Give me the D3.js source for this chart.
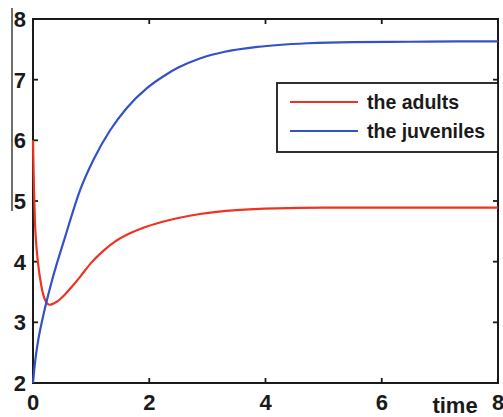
<!DOCTYPE html>
<html>
<head>
<meta charset="utf-8">
<script src="https://cdn.jsdelivr.net/npm/d3@7/dist/d3.min.js"></script>
<style>
  html, body { margin: 0; padding: 0; background: #fff; }
  svg { display: block; }
  text { font-family: "Liberation Sans", Arial, sans-serif; fill: #1a1a1a; }
</style>
</head>
<body>
<svg id="chart" width="503" height="417"></svg>
<script>
// Adults population over time
const adultTime  = [0, 0.01, 0.02, 0.034, 0.055, 0.086, 0.14, 0.207, 0.29, 0.41, 0.55, 0.69, 0.81, 1.0, 1.2, 1.41, 1.65, 1.9, 2.2, 2.5, 2.9, 3.5, 4.2, 5.0, 6.0, 7.0, 8.0];
const adultValue = [6.0, 5.5, 5.1, 4.64, 4.3, 3.98, 3.62, 3.37, 3.29, 3.34, 3.46, 3.61, 3.75, 3.98, 4.17, 4.33, 4.46, 4.56, 4.65, 4.72, 4.79, 4.85, 4.88, 4.89, 4.89, 4.89, 4.89];

// Juveniles population over time
const juvTime  = [0, 0.03, 0.08, 0.16, 0.33, 0.55, 0.81, 1.04, 1.33, 1.61, 1.96, 2.3, 2.5, 2.87, 3.3, 3.86, 4.72, 5.5, 6.5, 7.3, 8.0];
const juvValue = [2.0, 2.3, 2.65, 3.04, 3.7, 4.4, 5.18, 5.68, 6.17, 6.53, 6.86, 7.09, 7.20, 7.35, 7.46, 7.54, 7.60, 7.62, 7.625, 7.63, 7.63];

const xTicks = [0, 2, 4, 6, 8];
const yTicks = [2, 3, 4, 5, 6, 7, 8];
const seriesNames = ["the adults", "the juveniles"];
const seriesColors = ["#ee3322", "#3352c8"];
const xAxisTitle = "time";

const svg = d3.select("#chart");
const plot = { left: 33, top: 19, right: 498, bottom: 383 };

const x = d3.scaleLinear().domain([0, 8]).range([plot.left, plot.right]);
const y = d3.scaleLinear().domain([2, 8]).range([plot.bottom, plot.top]);

// stray rule left of the y labels
svg.append("line")
  .attr("x1", 12).attr("x2", 12).attr("y1", 8).attr("y2", 211)
  .attr("stroke", "#222").attr("stroke-width", 1.3);

svg.append("clipPath").attr("id", "clip")
  .append("rect")
  .attr("x", plot.left - 2).attr("y", plot.top)
  .attr("width", plot.right - plot.left + 2).attr("height", plot.bottom - plot.top);

// Box frame
svg.append("rect")
  .attr("x", plot.left).attr("y", plot.top)
  .attr("width", plot.right - plot.left).attr("height", plot.bottom - plot.top)
  .attr("fill", "none").attr("stroke", "#1a1a1a").attr("stroke-width", 2);

// Inward ticks on all four sides
const tickLen = 5;
const g = svg.append("g");
xTicks.forEach(t => {
  g.append("line").attr("x1", x(t)).attr("x2", x(t))
    .attr("y1", plot.bottom).attr("y2", plot.bottom - tickLen)
    .attr("stroke", "#1a1a1a").attr("stroke-width", 1.8);
  g.append("line").attr("x1", x(t)).attr("x2", x(t))
    .attr("y1", plot.top).attr("y2", plot.top + tickLen)
    .attr("stroke", "#1a1a1a").attr("stroke-width", 1.8);
});
yTicks.forEach(v => {
  g.append("line").attr("x1", plot.left).attr("x2", plot.left + tickLen)
    .attr("y1", y(v)).attr("y2", y(v))
    .attr("stroke", "#1a1a1a").attr("stroke-width", 1.8);
  g.append("line").attr("x1", plot.right).attr("x2", plot.right - tickLen)
    .attr("y1", y(v)).attr("y2", y(v))
    .attr("stroke", "#1a1a1a").attr("stroke-width", 1.8);
});

// Tick labels
svg.append("g").selectAll("text").data(yTicks).join("text")
  .attr("x", 26).attr("y", d => y(d) + 8)
  .attr("text-anchor", "end")
  .attr("font-size", 22).attr("font-weight", "bold")
  .text(d => d);

svg.append("g").selectAll("text").data(xTicks).join("text")
  .attr("x", d => x(d)).attr("y", 410)
  .attr("text-anchor", "middle")
  .attr("font-size", 22).attr("font-weight", "bold")
  .text(d => d);

svg.append("text")
  .attr("x", 455).attr("y", 413)
  .attr("text-anchor", "middle")
  .attr("font-size", 22).attr("font-weight", "bold")
  .text(xAxisTitle);

// Curves
const line = d3.line().x(d => x(d[0])).y(d => y(d[1])).curve(d3.curveMonotoneX);
const series = [
  d3.zip(adultTime, adultValue),
  d3.zip(juvTime, juvValue)
];
svg.append("g").attr("clip-path", "url(#clip)")
  .selectAll("path").data(series).join("path")
  .attr("d", line)
  .attr("fill", "none")
  .attr("stroke", (d, i) => seriesColors[i])
  .attr("stroke-width", 2.2);

// Legend
const lg = svg.append("g");
lg.append("rect")
  .attr("x", 277).attr("y", 83).attr("width", 221).attr("height", 69)
  .attr("fill", "#fff").attr("stroke", "#1a1a1a").attr("stroke-width", 1.8);
seriesNames.forEach((name, i) => {
  const yy = 102 + i * 29;
  lg.append("line").attr("x1", 290).attr("x2", 358).attr("y1", yy).attr("y2", yy)
    .attr("stroke", seriesColors[i]).attr("stroke-width", 2.2);
  lg.append("text").attr("x", 367).attr("y", yy + 6.5)
    .attr("font-size", 19.5).attr("font-weight", "bold")
    .text(name);
});
</script>
</body>
</html>
